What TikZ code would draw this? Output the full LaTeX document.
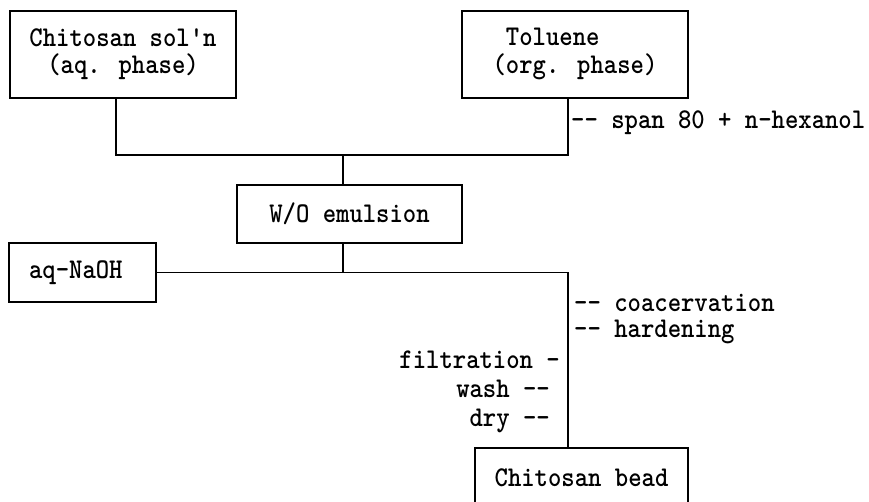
\documentclass[tikz,border=0pt]{standalone}
\usepackage{graphicx}
\newcommand\fsz{\fontsize{28.6}{24.5}\selectfont\ttfamily\bfseries}
\newcommand\sx[1]{\scalebox{0.89}[1]{#1}}
\newcommand\dd{-\kern0pt-}
\tikzset{
  box/.style={draw, line width=1.8pt, inner sep=0pt, font=\fsz},
  lbl/.style={inner sep=0pt, font=\fsz},
  conn/.style={line width=1.8pt}
}
\begin{document}
\begin{tikzpicture}[x=1pt,y=-1pt]
\useasboundingbox (0,0) rectangle (869,501);
% boxes
\node[box, minimum width=226pt, minimum height=87pt] (chit) at (123,54.5)
  {\sx{\begin{tabular}{@{}c@{}}Chitosan sol'n\\(aq. phase)\end{tabular}}};
\node[box, minimum width=226pt, minimum height=87pt] (tol) at (575,54.5)
  {\sx{\begin{tabular}{@{}l@{}}\ Toluene\\(org. phase)\end{tabular}}};
\node[box, minimum width=225pt, minimum height=58pt] (wo) at (349.5,214)
  {\sx{W/O emulsion}};
\node[box, minimum width=147pt, minimum height=59pt] (naoh) at (82.5,272.5)
  {\sx{aq-NaOH\ }};
\node[box, minimum width=213pt, minimum height=60pt] (bead) at (581.5,478)
  {\sx{Chitosan bead}};
% junctions
\coordinate (j1) at (116,155);
\coordinate (j2) at (343,155);
\coordinate (j3) at (568,155);
\coordinate (j4) at (343,272.5);
\coordinate (j5) at (568,272.5);
% connectors
\draw[conn] (chit.south -| j1) -- (j1) -- (j3) -- (tol.south -| j3);
\draw[conn] (j2) -- (wo.north -| j2);
\draw[conn] (wo.south -| j4) -- (j4);
\draw[conn] (naoh.east) -- (j5) -- (bead.north -| j5);
% labels
\node[lbl, anchor=base west] (span) at (571,128) {\sx{\dd{} span 80 + n-hexanol}};
\node[lbl, anchor=base west] (coac) at (574,311) {\sx{\dd{} coacervation}};
\node[lbl, anchor=base west] (hard) at (574,337) {\sx{\dd{} hardening}};
\node[lbl, anchor=base east] (filt) at (560,368) {\sx{filtration -}};
\node[lbl, anchor=base east] (wash) at (550,397) {\sx{wash \dd}};
\node[lbl, anchor=base east] (dry) at (550,426) {\sx{dry \dd}};
\end{tikzpicture}
\end{document}
